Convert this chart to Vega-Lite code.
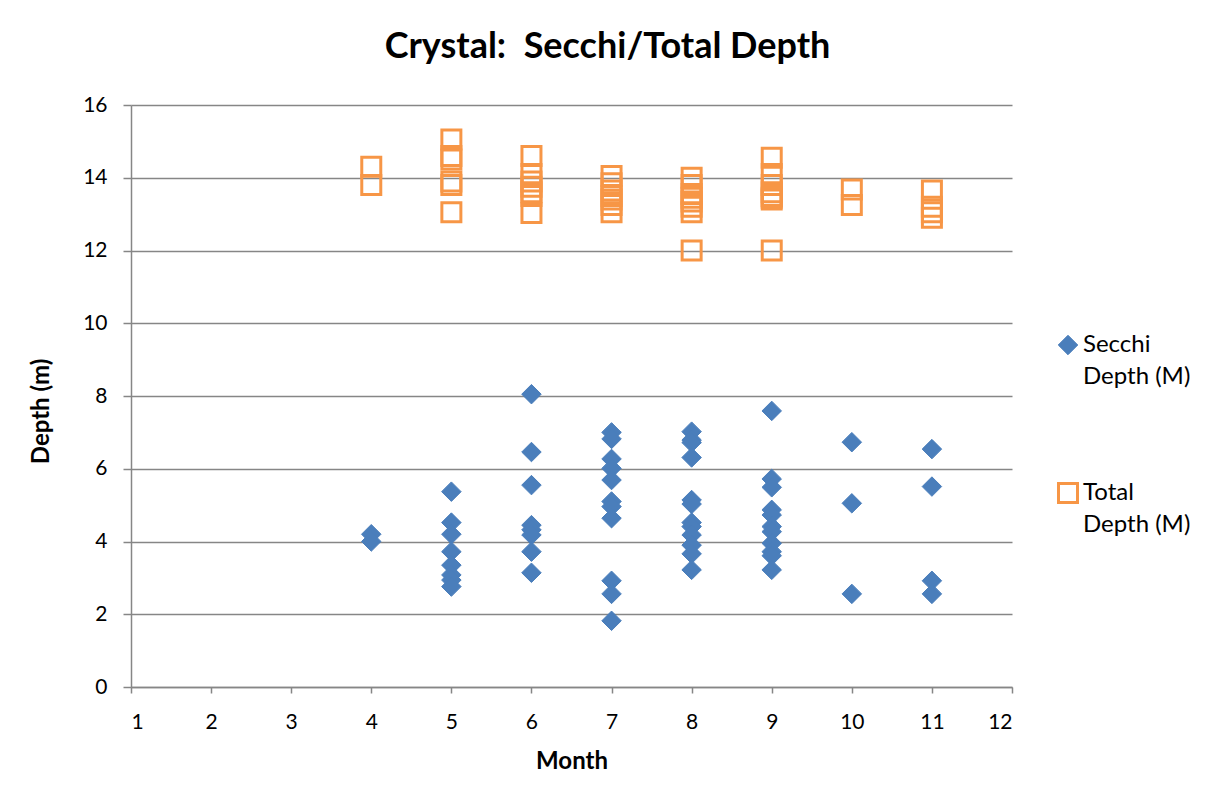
{
  "$schema": "https://vega.github.io/schema/vega-lite/v6.json",
  "autosize": "none",
  "width": 881,
  "height": 582,
  "padding": {"left": 131, "top": 105, "right": 199, "bottom": 111},
  "background": "white",
  "title": {
    "text": "Crystal:\u00a0 Secchi/Total Depth",
    "font": "Lato",
    "fontSize": 36,
    "fontWeight": "bold",
    "color": "#000000",
    "anchor": "middle",
    "dx": 36,
    "offset": 28
  },
  "data": {
    "values": [
      {"month": 4, "series": "Secchi Depth (M)", "depth": 4.2},
      {"month": 4, "series": "Secchi Depth (M)", "depth": 4.0},
      {"month": 5, "series": "Secchi Depth (M)", "depth": 5.37},
      {"month": 5, "series": "Secchi Depth (M)", "depth": 4.52},
      {"month": 5, "series": "Secchi Depth (M)", "depth": 4.2},
      {"month": 5, "series": "Secchi Depth (M)", "depth": 3.72},
      {"month": 5, "series": "Secchi Depth (M)", "depth": 3.35},
      {"month": 5, "series": "Secchi Depth (M)", "depth": 3.08},
      {"month": 5, "series": "Secchi Depth (M)", "depth": 2.94},
      {"month": 5, "series": "Secchi Depth (M)", "depth": 2.76},
      {"month": 6, "series": "Secchi Depth (M)", "depth": 8.05},
      {"month": 6, "series": "Secchi Depth (M)", "depth": 6.46},
      {"month": 6, "series": "Secchi Depth (M)", "depth": 5.55},
      {"month": 6, "series": "Secchi Depth (M)", "depth": 4.45},
      {"month": 6, "series": "Secchi Depth (M)", "depth": 4.32},
      {"month": 6, "series": "Secchi Depth (M)", "depth": 4.18},
      {"month": 6, "series": "Secchi Depth (M)", "depth": 3.72},
      {"month": 6, "series": "Secchi Depth (M)", "depth": 3.14},
      {"month": 7, "series": "Secchi Depth (M)", "depth": 7.0},
      {"month": 7, "series": "Secchi Depth (M)", "depth": 6.82},
      {"month": 7, "series": "Secchi Depth (M)", "depth": 6.27},
      {"month": 7, "series": "Secchi Depth (M)", "depth": 6.01},
      {"month": 7, "series": "Secchi Depth (M)", "depth": 5.69},
      {"month": 7, "series": "Secchi Depth (M)", "depth": 5.1},
      {"month": 7, "series": "Secchi Depth (M)", "depth": 4.96},
      {"month": 7, "series": "Secchi Depth (M)", "depth": 4.64},
      {"month": 7, "series": "Secchi Depth (M)", "depth": 2.92},
      {"month": 7, "series": "Secchi Depth (M)", "depth": 2.56},
      {"month": 7, "series": "Secchi Depth (M)", "depth": 1.82},
      {"month": 8, "series": "Secchi Depth (M)", "depth": 7.02},
      {"month": 8, "series": "Secchi Depth (M)", "depth": 6.79},
      {"month": 8, "series": "Secchi Depth (M)", "depth": 6.72},
      {"month": 8, "series": "Secchi Depth (M)", "depth": 6.31},
      {"month": 8, "series": "Secchi Depth (M)", "depth": 5.14},
      {"month": 8, "series": "Secchi Depth (M)", "depth": 5.03},
      {"month": 8, "series": "Secchi Depth (M)", "depth": 4.52},
      {"month": 8, "series": "Secchi Depth (M)", "depth": 4.41},
      {"month": 8, "series": "Secchi Depth (M)", "depth": 4.18},
      {"month": 8, "series": "Secchi Depth (M)", "depth": 3.9},
      {"month": 8, "series": "Secchi Depth (M)", "depth": 3.66},
      {"month": 8, "series": "Secchi Depth (M)", "depth": 3.22},
      {"month": 9, "series": "Secchi Depth (M)", "depth": 7.59},
      {"month": 9, "series": "Secchi Depth (M)", "depth": 5.72},
      {"month": 9, "series": "Secchi Depth (M)", "depth": 5.49},
      {"month": 9, "series": "Secchi Depth (M)", "depth": 4.87},
      {"month": 9, "series": "Secchi Depth (M)", "depth": 4.73},
      {"month": 9, "series": "Secchi Depth (M)", "depth": 4.41},
      {"month": 9, "series": "Secchi Depth (M)", "depth": 4.27},
      {"month": 9, "series": "Secchi Depth (M)", "depth": 3.95},
      {"month": 9, "series": "Secchi Depth (M)", "depth": 3.72},
      {"month": 9, "series": "Secchi Depth (M)", "depth": 3.61},
      {"month": 9, "series": "Secchi Depth (M)", "depth": 3.22},
      {"month": 10, "series": "Secchi Depth (M)", "depth": 6.73},
      {"month": 10, "series": "Secchi Depth (M)", "depth": 5.05},
      {"month": 10, "series": "Secchi Depth (M)", "depth": 2.56},
      {"month": 11, "series": "Secchi Depth (M)", "depth": 6.54},
      {"month": 11, "series": "Secchi Depth (M)", "depth": 5.51},
      {"month": 11, "series": "Secchi Depth (M)", "depth": 2.92},
      {"month": 11, "series": "Secchi Depth (M)", "depth": 2.56},
      {"month": 4, "series": "Total Depth (M)", "depth": 14.3},
      {"month": 4, "series": "Total Depth (M)", "depth": 13.8},
      {"month": 5, "series": "Total Depth (M)", "depth": 15.05},
      {"month": 5, "series": "Total Depth (M)", "depth": 14.6},
      {"month": 5, "series": "Total Depth (M)", "depth": 14.5},
      {"month": 5, "series": "Total Depth (M)", "depth": 13.9},
      {"month": 5, "series": "Total Depth (M)", "depth": 13.8},
      {"month": 5, "series": "Total Depth (M)", "depth": 13.05},
      {"month": 6, "series": "Total Depth (M)", "depth": 14.6},
      {"month": 6, "series": "Total Depth (M)", "depth": 14.1},
      {"month": 6, "series": "Total Depth (M)", "depth": 13.9},
      {"month": 6, "series": "Total Depth (M)", "depth": 13.75},
      {"month": 6, "series": "Total Depth (M)", "depth": 13.6},
      {"month": 6, "series": "Total Depth (M)", "depth": 13.5},
      {"month": 6, "series": "Total Depth (M)", "depth": 13.03},
      {"month": 7, "series": "Total Depth (M)", "depth": 14.05},
      {"month": 7, "series": "Total Depth (M)", "depth": 13.85},
      {"month": 7, "series": "Total Depth (M)", "depth": 13.65},
      {"month": 7, "series": "Total Depth (M)", "depth": 13.5},
      {"month": 7, "series": "Total Depth (M)", "depth": 13.4},
      {"month": 7, "series": "Total Depth (M)", "depth": 13.25},
      {"month": 7, "series": "Total Depth (M)", "depth": 13.05},
      {"month": 8, "series": "Total Depth (M)", "depth": 14.0},
      {"month": 8, "series": "Total Depth (M)", "depth": 13.8},
      {"month": 8, "series": "Total Depth (M)", "depth": 13.55},
      {"month": 8, "series": "Total Depth (M)", "depth": 13.45},
      {"month": 8, "series": "Total Depth (M)", "depth": 13.35},
      {"month": 8, "series": "Total Depth (M)", "depth": 13.2},
      {"month": 8, "series": "Total Depth (M)", "depth": 13.05},
      {"month": 8, "series": "Total Depth (M)", "depth": 12.0},
      {"month": 9, "series": "Total Depth (M)", "depth": 14.55},
      {"month": 9, "series": "Total Depth (M)", "depth": 14.1},
      {"month": 9, "series": "Total Depth (M)", "depth": 13.8},
      {"month": 9, "series": "Total Depth (M)", "depth": 13.6},
      {"month": 9, "series": "Total Depth (M)", "depth": 13.5},
      {"month": 9, "series": "Total Depth (M)", "depth": 13.45},
      {"month": 9, "series": "Total Depth (M)", "depth": 13.4},
      {"month": 9, "series": "Total Depth (M)", "depth": 12.0},
      {"month": 10, "series": "Total Depth (M)", "depth": 13.68},
      {"month": 10, "series": "Total Depth (M)", "depth": 13.25},
      {"month": 11, "series": "Total Depth (M)", "depth": 13.65},
      {"month": 11, "series": "Total Depth (M)", "depth": 13.2},
      {"month": 11, "series": "Total Depth (M)", "depth": 13.05},
      {"month": 11, "series": "Total Depth (M)", "depth": 12.9}
    ]
  },
  "mark": {"type": "point", "opacity": 1},
  "encoding": {
    "x": {
      "field": "month",
      "type": "quantitative",
      "scale": {"domain": [1, 12], "nice": false, "zero": false},
      "axis": {
        "title": "Month",
        "values": [1, 2, 3, 4, 5, 6, 7, 8, 9, 10, 11, 12],
        "grid": false,
        "domainColor": "#868686",
        "domainWidth": 1.5,
        "tickColor": "#868686",
        "tickWidth": 1.5,
        "tickSize": 6,
        "labelFont": "Lato",
        "labelFontSize": 21,
        "labelColor": "#000000",
        "labelPadding": 18,
        "titleFont": "Lato",
        "titleFontSize": 24,
        "titleFontWeight": "bold",
        "titleColor": "#000000",
        "titlePadding": 17
      }
    },
    "y": {
      "field": "depth",
      "type": "quantitative",
      "scale": {"domain": [0, 16], "nice": false},
      "axis": {
        "title": "Depth (m)",
        "values": [0, 2, 4, 6, 8, 10, 12, 14, 16],
        "grid": true,
        "gridColor": "#868686",
        "gridWidth": 1.5,
        "domainColor": "#868686",
        "domainWidth": 1.5,
        "tickColor": "#868686",
        "tickWidth": 1.5,
        "tickSize": 8,
        "labelFont": "Lato",
        "labelFontSize": 21,
        "labelColor": "#000000",
        "labelPadding": 16,
        "titleFont": "Lato",
        "titleFontSize": 24,
        "titleFontWeight": "bold",
        "titleColor": "#000000",
        "titleX": -78,
        "titleY": 306
      }
    },
    "shape": {
      "field": "series",
      "type": "nominal",
      "scale": {"domain": ["Secchi Depth (M)", "Total Depth (M)"], "range": ["diamond", "square"]},
      "legend": {
        "title": null,
        "orient": "none",
        "legendX": 925,
        "legendY": 228,
        "padding": 0,
        "rowPadding": 88,
        "labelFont": "Lato",
        "labelFontSize": 24,
        "labelColor": "#000000",
        "labelBaseline": "middle",
        "labelOffset": 3,
        "labelExpr": "datum.label == 'Secchi Depth (M)' ? ['Secchi', 'Depth (M)'] : ['Total', 'Depth (M)']"
      }
    },
    "fill": {
      "field": "series",
      "type": "nominal",
      "scale": {"domain": ["Secchi Depth (M)", "Total Depth (M)"], "range": ["#4A7EBB", "transparent"]}
    },
    "stroke": {
      "field": "series",
      "type": "nominal",
      "scale": {"domain": ["Secchi Depth (M)", "Total Depth (M)"], "range": ["#4A7EBB", "#F79646"]}
    },
    "strokeWidth": {
      "field": "series",
      "type": "nominal",
      "scale": {"domain": ["Secchi Depth (M)", "Total Depth (M)"], "range": [1, 3]}
    },
    "size": {
      "field": "series",
      "type": "nominal",
      "scale": {"domain": ["Secchi Depth (M)", "Total Depth (M)"], "range": [380, 361]}
    }
  },
  "config": {
    "view": {"stroke": null},
    "style": {"guide-label": {"lineHeight": 32}}
  }
}
